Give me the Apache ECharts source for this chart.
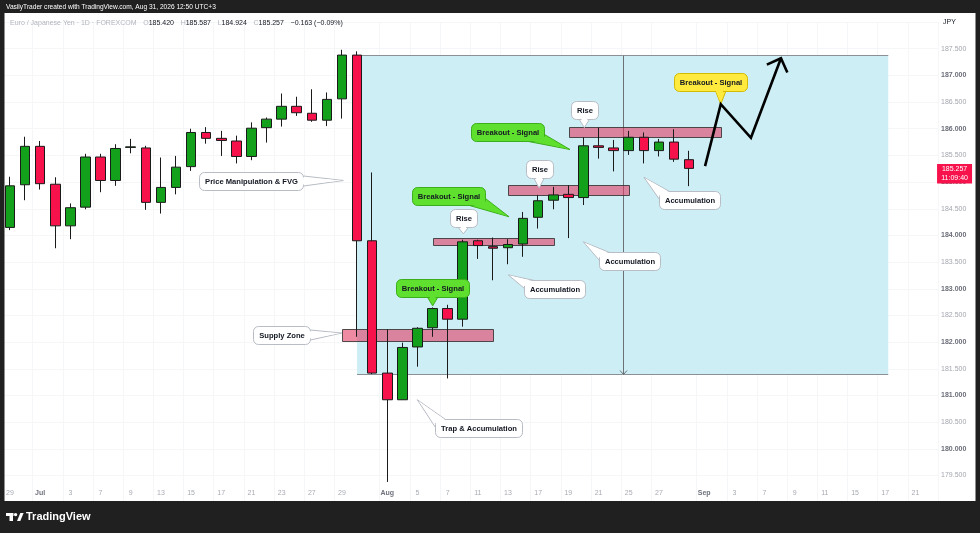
<!DOCTYPE html>
<html><head><meta charset="utf-8">
<script src="https://cdn.jsdelivr.net/npm/echarts@6/dist/echarts.min.js"></script>
<style>html,body{margin:0;padding:0;background:#202020;}#c{width:980px;height:533px;}</style>
</head><body><div id="c"></div>
<script>
// ---------- DATA ----------
const dates = ['Jun 29','Jun 30','Jul 1','Jul 2','Jul 3','Jul 6','Jul 7','Jul 8','Jul 9','Jul 10','Jul 13','Jul 14','Jul 15','Jul 16','Jul 17','Jul 20','Jul 21','Jul 22','Jul 23','Jul 24','Jul 27','Jul 28','Jul 29','Jul 30','Jul 31','Aug 3','Aug 4','Aug 5','Aug 6','Aug 7','Aug 10','Aug 11','Aug 12','Aug 13','Aug 14','Aug 17','Aug 18','Aug 19','Aug 20','Aug 21','Aug 24','Aug 25','Aug 26','Aug 27','Aug 28','Aug 31','Sep 1','Sep 2','Sep 3','Sep 4','Sep 7','Sep 8','Sep 9','Sep 10','Sep 11','Sep 14','Sep 15','Sep 16','Sep 17','Sep 18','Sep 21','Sep 22'];
const opens  = [184.15,184.95,185.67,184.96,184.18,184.53,185.47,185.03,185.65,185.64,184.62,184.90,185.29,185.93,185.82,185.77,185.48,186.02,186.18,186.42,186.29,186.16,186.56,187.38,183.90,181.42,180.92,181.91,182.27,182.63,182.43,183.90,183.79,183.77,183.84,184.34,184.66,184.77,184.71,185.68,185.64,185.59,185.84,185.59,185.75,185.420];
const closes = [184.93,185.67,184.97,184.18,184.52,185.47,185.03,185.63,185.66,184.62,184.90,185.28,185.93,185.82,185.78,185.48,186.01,186.18,186.42,186.30,186.16,186.55,187.38,183.90,181.42,180.92,181.90,182.26,182.63,182.43,183.88,183.81,183.76,183.83,184.32,184.65,184.76,184.71,185.68,185.65,185.59,185.84,185.59,185.75,185.43,185.257];
const lows   = [184.10,184.66,184.86,183.76,183.93,184.49,184.81,184.93,185.54,184.48,184.41,184.77,185.21,185.72,185.49,185.35,185.41,185.74,186.04,186.24,186.13,186.05,186.19,182.10,181.40,179.38,180.92,181.54,182.10,181.32,182.29,183.56,183.16,183.46,183.60,184.13,184.49,183.95,184.57,185.44,185.20,185.51,185.35,185.48,185.38,184.924];
const highs  = [185.10,185.85,185.77,185.09,184.60,185.53,185.53,185.71,185.81,185.68,185.46,185.49,186.00,186.03,185.96,185.87,186.12,186.21,186.66,186.60,186.74,186.68,187.48,187.45,185.18,182.24,181.99,182.28,182.65,182.70,183.92,183.92,183.96,183.93,184.44,184.76,184.91,184.94,185.84,186.02,185.79,185.96,185.93,185.81,185.99,185.587];
const tickDates = ['Jun 29','Jul 1','Jul 3','Jul 7','Jul 9','Jul 13','Jul 15','Jul 17','Jul 21','Jul 23','Jul 27','Jul 29','Aug 3','Aug 5','Aug 7','Aug 11','Aug 13','Aug 17','Aug 19','Aug 21','Aug 25','Aug 27','Sep 1','Sep 3','Sep 7','Sep 9','Sep 11','Sep 15','Sep 17','Sep 21'];
const tickTexts = ['29','Jul','3','7','9','13','15','17','21','23','27','29','Aug','5','7','11','13','17','19','21','25','27','Sep','3','7','9','11','15','17','21'];
const priceMin = 179.0, priceMax = 188.0, priceStep = 0.5;

// drawings, anchored in (bar index, price)
const rangeX0 = 23, rangeX1 = 58.2, rangeTop = 187.38, rangeBottom = 181.40, rangeArrowX = 40.6;
const zoneX0 = [22, 28, 33, 37.06];
const zoneX1 = [32, 36.05, 41.04, 47.1];
const zoneTop = [182.24, 183.96, 184.95, 186.03];
const zoneBottom = [182.01, 183.83, 184.77, 185.84];
const calloutText = ['Price Manipulation & FVG','Supply Zone','Trap & Accumulation','Breakout - Signal','Rise','Accumulation','Breakout - Signal','Rise','Accumulation','Breakout - Signal','Rise','Accumulation','Breakout - Signal'];
const calloutX = [15.99, 18.0, 31.06, 28.03, 30.04, 36.06, 29.03, 35.06, 41.05, 33.0, 38.05, 45.06, 46.41];
const calloutY = [185.02, 182.13, 180.40, 183.01, 184.33, 183.00, 184.73, 185.24, 183.52, 185.93, 186.35, 184.66, 186.87];
const tipX = [22.09, 21.98, 26.99, 28.01, 30.04, 33.02, 33.07, 35.06, 37.99, 37.11, 38.06, 42.01, 47.10];
const tipY = [185.03, 182.17, 180.92, 182.68, 184.03, 183.26, 184.35, 184.89, 183.88, 185.61, 186.02, 185.09, 186.46];
const calloutKind = ['white','white','white','green','white','white','green','white','white','green','white','white','yellow'];
const calloutTail = ['right','right','topleft','bottom','bottom','topleft','bottomright','bottom','topleft','bottomright','bottom','topleft','bottom'];
const pathX = [46.06, 47.10, 49.10, 51.09];
const pathY = [185.30, 186.46, 185.83, 187.32];

// ---------- STYLE / LAYOUT ----------
const FONT = '"Liberation Sans", Arial, sans-serif';
const GRID = {left: 2.455, top: 22.03, width: 935.6, height: 480.17};
const KIND = {
  white: {fill:'#ffffff', stroke:'#b8bcc4'},
  green: {fill:'#5fe02e', stroke:'#3cae1c'},
  yellow:{fill:'#ffea3d', stroke:'#d2ba00'}
};
const mctx = document.createElement('canvas').getContext('2d');
function textW(s){ mctx.font = 'bold 7.6px ' + FONT; return mctx.measureText(s).width; }

const chart = echarts.init(document.getElementById('c'), null, {renderer:'canvas', width:980, height:533});

function rangeItem(params, api){
  const a = api.coord([api.value(0), api.value(1)]);
  const b = api.coord([api.value(2), api.value(3)]);
  const ax = Math.round(api.coord([api.value(4), api.value(1)])[0]) + 0.5;
  const yt = Math.round(a[1]) + 0.5, yb = Math.round(b[1]) + 0.5;
  const line = {stroke:'#8a9095', lineWidth:1};
  return {type:'group', children:[
    {type:'rect', shape:{x:a[0], y:a[1], width:b[0]-a[0], height:b[1]-a[1]}, style:{fill:'#cdeef5'}},
    {type:'line', shape:{x1:a[0], y1:yt, x2:b[0], y2:yt}, style:line},
    {type:'line', shape:{x1:a[0], y1:yb, x2:b[0], y2:yb}, style:line},
    {type:'line', shape:{x1:ax, y1:yt, x2:ax, y2:yb}, style:{stroke:'#6b7175', lineWidth:1}},
    {type:'polyline', shape:{points:[[ax-3.5, yb-4],[ax, yb],[ax+3.5, yb-4]]}, style:{stroke:'#6b7175', lineWidth:1, fill:null}}
  ]};
}

function zoneItem(params, api){
  const a = api.coord([api.value(0), api.value(1)]);
  const b = api.coord([api.value(2), api.value(3)]);
  return {type:'rect', shape:{x:Math.round(a[0])+0.5, y:Math.round(a[1])+0.5, width:Math.round(b[0]-a[0]), height:Math.round(b[1]-a[1])},
    style:{fill:'rgba(226,60,100,0.6)', stroke:'rgba(50,50,50,0.85)', lineWidth:1}};
}

function calloutItem(params, api){
  const i = params.dataIndex;
  const c = api.coord([api.value(0), api.value(1)]);
  const t = api.coord([api.value(2), api.value(3)]);
  const txt = calloutText[i];
  const w = Math.round(textW(txt) + 11), h = 18;
  const L = Math.round(c[0] - w/2) + 0.5, T = Math.round(c[1] - h/2) + 0.5, R = L + w, B = T + h;
  const cx = (L+R)/2, cy = (T+B)/2;
  const k = KIND[calloutKind[i]];
  let b1, b2;
  switch (calloutTail[i]) {
    case 'right': b1 = [R, cy-5.5]; b2 = [R, cy+4.5]; break;
    case 'topleft': b1 = [L, T+8]; b2 = [L+10, T]; break;
    case 'bottomright': b1 = [R, cy+2]; b2 = [R-16, B]; break;
    default: { const x = Math.min(Math.max(t[0], L+8), R-8); b1 = [x-5, B]; b2 = [x+5, B]; }
  }
  const mid = [(b1[0]+b2[0])/2, (b1[1]+b2[1])/2];
  let nx = cx - mid[0], ny = cy - mid[1]; const nl = Math.hypot(nx, ny) || 1; nx /= nl; ny /= nl;
  let tx = mid[0]-t[0], ty = mid[1]-t[1]; const tl = Math.hypot(tx, ty) || 1; tx /= tl; ty /= tl;
  const b1c = [b1[0] + (b2[0]-b1[0])*0.12 + nx*2, b1[1] + (b2[1]-b1[1])*0.12 + ny*2];
  const b2c = [b2[0] + (b1[0]-b2[0])*0.12 + nx*2, b2[1] + (b1[1]-b2[1])*0.12 + ny*2];
  const tc = [t[0] + tx*1.6, t[1] + ty*1.6];
  return {type:'group', children:[
    {type:'polygon', shape:{points:[b1, t, b2]}, style:{fill:k.fill, stroke:k.stroke, lineWidth:1}},
    {type:'rect', shape:{x:L, y:T, width:w, height:h, r:5}, style:{fill:k.fill, stroke:k.stroke, lineWidth:1}},
    {type:'polygon', shape:{points:[b1c, tc, b2c]}, style:{fill:k.fill}},
    {type:'text', style:{x:cx, y:cy+0.5, text:txt, align:'center', verticalAlign:'middle', font:'bold 7.6px ' + FONT, fill:'#131722'}}
  ]};
}

function pathItem(params, api){
  if (params.dataIndex !== 0) return null;
  const pts = pathX.map((x, j) => api.coord([x, pathY[j]]));
  const n = pts.length, tip = pts[n-1], prev = pts[n-2];
  const ang = Math.atan2(prev[1]-tip[1], prev[0]-tip[0]);
  const L = 15.5, s = Math.PI/4;
  const w1 = [tip[0] + L*Math.cos(ang+s), tip[1] + L*Math.sin(ang+s)];
  const w2 = [tip[0] + L*Math.cos(ang-s), tip[1] + L*Math.sin(ang-s)];
  return {type:'group', children:[
    {type:'polyline', shape:{points:pts}, style:{stroke:'#000', lineWidth:2.6, fill:null, lineJoin:'miter'}},
    {type:'polyline', shape:{points:[w1, tip, w2]}, style:{stroke:'#000', lineWidth:2.6, fill:null, lineJoin:'miter'}}
  ]};
}

function tagItem(params, api){
  const p = api.coord([api.value(0), api.value(1)]);
  const cs = params.coordSys;
  const x0 = cs.x + cs.width - 1, y0 = Math.round(p[1] - 4.5);
  const v = api.value(1);
  return {type:'group', children:[
    {type:'rect', shape:{x:x0, y:y0, width:35, height:19.5}, style:{fill:'#f7124c'}},
    {type:'text', style:{x:x0+17.5, y:y0+5, text:v.toFixed(3), align:'center', verticalAlign:'middle', font:'7px ' + FONT, fill:'#ffffff'}},
    {type:'text', style:{x:x0+17.5, y:y0+14, text:'11:09:40', align:'center', verticalAlign:'middle', font:'7px ' + FONT, fill:'#ffffff'}}
  ]};
}

const showTick = (idx, val) => tickDates.indexOf(val) >= 0;
const last = closes.length - 1;

chart.setOption({
  animation: false,
  backgroundColor: '#ffffff',
  grid: GRID,
  xAxis: [{
    type:'category', data: dates, boundaryGap:true, gridIndex:0,
    axisLine:{show:false}, axisTick:{show:false},
    axisLabel:{interval: showTick, margin:-13, fontFamily:FONT, fontSize:7, color:'#a8abb3',
      formatter: (v) => { const k = tickDates.indexOf(v); if (k < 0) return ''; const t = tickTexts[k]; return isNaN(+t) ? '{m|' + t + '}' : t; },
      rich:{m:{color:'#6f727d', fontWeight:'bold', fontFamily:FONT, fontSize:7}}},
    splitLine:{show:true, interval: showTick, lineStyle:{color:'#f5f6f8', width:1}}
  },{
    type:'value', gridIndex:0, min:-0.5, max: dates.length - 0.5, show:false
  }],
  yAxis: {
    type:'value', position:'right', min: priceMin, max: priceMax, interval: priceStep, scale:true,
    axisLine:{show:false}, axisTick:{show:false},
    axisLabel:{margin:3, showMinLabel:false, showMaxLabel:false, fontFamily:FONT, fontSize:7,
      formatter: (v) => Math.abs(v - Math.round(v)) < 1e-6 ? '{b|' + v.toFixed(3) + '}' : '{h|' + v.toFixed(3) + '}',
      rich:{b:{color:'#6a6d78', fontWeight:'bold', fontFamily:FONT, fontSize:7}, h:{color:'#a3a6ae', fontFamily:FONT, fontSize:7}}},
    splitLine:{show:true, lineStyle:{color:'#f5f6f8', width:1}}
  },
  series: [
    {type:'custom', xAxisIndex:1, yAxisIndex:0, z:1, silent:true, renderItem: rangeItem,
      dimensions:['x0','top','x1','bottom','ax'], encode:{x:[0,2,4], y:[1,3]},
      data:[[rangeX0, rangeTop, rangeX1, rangeBottom, rangeArrowX]]},
    {type:'custom', xAxisIndex:1, yAxisIndex:0, z:2, silent:true, renderItem: zoneItem,
      dimensions:['x0','top','x1','bottom'], encode:{x:[0,2], y:[1,3]},
      data: zoneX0.map((x, i) => [x, zoneTop[i], zoneX1[i], zoneBottom[i]])},
    {type:'candlestick', xAxisIndex:0, yAxisIndex:0, z:3, barWidth:10, silent:true,
      data: opens.map((o, i) => [o, closes[i], lows[i], highs[i]]),
      itemStyle:{color:'#13a11c', color0:'#f7124c', borderColor:'#1a1a1a', borderColor0:'#1a1a1a', borderColorDoji:'#1a1a1a', borderWidth:1}},
    {type:'custom', xAxisIndex:1, yAxisIndex:0, z:5, silent:true, renderItem: calloutItem,
      dimensions:['cx','cy','tx','ty'], encode:{x:[0,2], y:[1,3]},
      data: calloutText.map((t, i) => [calloutX[i], calloutY[i], tipX[i], tipY[i]])},
    {type:'custom', xAxisIndex:1, yAxisIndex:0, z:6, silent:true, renderItem: pathItem,
      encode:{x:0, y:1}, data: pathX.map((x, i) => [x, pathY[i]])},
    {type:'custom', xAxisIndex:1, yAxisIndex:0, z:7, silent:true, renderItem: tagItem,
      encode:{x:0, y:1}, data:[[last, closes[last]]]}
  ],
  graphic: [
    {type:'rect', z:100, shape:{x:0, y:0, width:980, height:13}, style:{fill:'#202020'}},
    {type:'rect', z:100, shape:{x:0, y:501, width:980, height:32}, style:{fill:'#202020'}},
    {type:'rect', z:100, shape:{x:0, y:0, width:4.5, height:533}, style:{fill:'#202020'}},
    {type:'rect', z:100, shape:{x:975.5, y:0, width:4.5, height:533}, style:{fill:'#202020'}},
    {type:'text', z:101, style:{x:6, y:7, text:'VasilyTrader created with TradingView.com, Aug 31, 2026 12:50 UTC+3', font:'6.6px ' + FONT, fill:'#ffffff', verticalAlign:'middle'}},
    {type:'text', z:101, style:{x:10, y:23, verticalAlign:'middle',
      text:'{g|Euro / Japanese Yen · 1D · FOREXCOM}  {g|O}{v|' + opens[last].toFixed(3) + '}  {g|H}{v|' + highs[last].toFixed(3) + '}  {g|L}{v|' + lows[last].toFixed(3) + '}  {g|C}{v|' + closes[last].toFixed(3) + '}  {v|−0.163 (−0.09%)}',
      rich:{g:{fill:'#b2b5be', fontSize:7, fontFamily:FONT}, v:{fill:'#131722', fontSize:7, fontFamily:FONT}}}},
    {type:'text', z:101, style:{x:943, y:22, text:'JPY', font:'7px ' + FONT, fill:'#131722', verticalAlign:'middle'}},
    {type:'rect', z:101, shape:{x:6, y:513, width:7.5, height:3}, style:{fill:'#ffffff'}},
    {type:'rect', z:101, shape:{x:9.5, y:513, width:3.5, height:8}, style:{fill:'#ffffff'}},
    {type:'circle', z:101, shape:{cx:15.6, cy:514.6, r:1.7}, style:{fill:'#ffffff'}},
    {type:'polygon', z:101, shape:{points:[[17,521],[20.3,513],[23.6,513],[20.3,521]]}, style:{fill:'#ffffff'}},
    {type:'text', z:101, style:{x:26, y:517, text:'TradingView', font:'bold 11px ' + FONT, fill:'#ffffff', verticalAlign:'middle'}}
  ]
});
</script>
</body></html>
